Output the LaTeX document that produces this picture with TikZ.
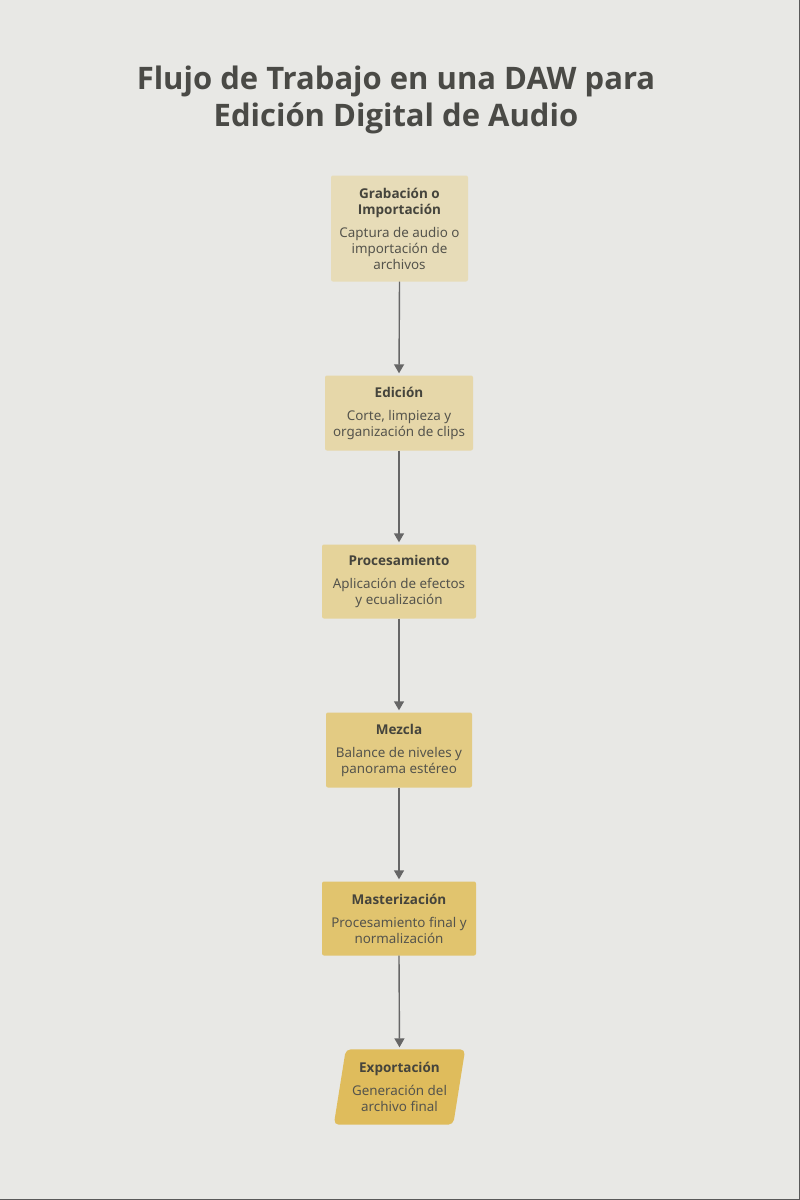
\documentclass[tikz,border=0pt]{standalone}
\usepackage{fontspec}
\setmainfont{Noto Sans}
\newfontfamily\titlefont{Open Sans}
\usetikzlibrary{arrows.meta,backgrounds}
\definecolor{bgc}{HTML}{E8E8E5}
\definecolor{titlec}{HTML}{4A4A46}
\definecolor{headc}{HTML}{45443C}
\definecolor{descc}{HTML}{55544C}
\definecolor{arrc}{HTML}{666666}
\definecolor{c1}{HTML}{E7DCB8}
\definecolor{c2}{HTML}{E6D7A9}
\definecolor{c3}{HTML}{E5D39A}
\definecolor{c4}{HTML}{E3CB83}
\definecolor{c5}{HTML}{E1C46E}
\definecolor{c6}{HTML}{DFBC5C}
\newcommand{\hd}[1]{{\titlefont\bfseries\fontsize{13.5}{16}\selectfont\color{headc}#1}}
\tikzset{
  stepbox/.style={rounded corners=2pt, align=center, inner sep=0pt, text=descc, font=\fontsize{13.4}{16}\selectfont},
  flow/.style={draw=arrc, line width=1.4pt, -{Triangle[length=9pt,width=10pt]}, shorten >=2pt},
}
\begin{document}
\begin{tikzpicture}[x=1pt,y=-1pt]
\useasboundingbox (0,0) rectangle (800,1200);
\begin{scope}[on background layer]
\fill[bgc] (0,0) rectangle (800,1200);
\draw[color=gray!70!black, line width=1pt] (799.5,0) -- (799.5,1199.5) -- (0,1199.5);
\end{scope}
\node[align=center, text=titlec, font=\titlefont\bfseries\fontsize{31}{37}\selectfont] (title) at (396,100) {Flujo de Trabajo en una DAW para\\Edición Digital de Audio};
\node[stepbox, fill=c1, minimum width=137pt, minimum height=106pt] (n1) at (399.5,228.5) {\hd{Grabación o}\\\hd{Importación}\\[7pt]Captura de audio o\\importación de\\archivos};
\node[stepbox, fill=c2, minimum width=148pt, minimum height=75pt] (n2) at (399,413) {\hd{Edición}\\[7pt]Corte, limpieza y\\organización de clips};
\node[stepbox, fill=c3, minimum width=154pt, minimum height=74pt] (n3) at (399,581.5) {\hd{Procesamiento}\\[7pt]Aplicación de efectos\\y ecualización};
\node[stepbox, fill=c4, minimum width=146pt, minimum height=75pt] (n4) at (399,750) {\hd{Mezcla}\\[7pt]Balance de niveles y\\panorama estéreo};
\node[stepbox, fill=c5, minimum width=154pt, minimum height=74pt] (n5) at (399,918.5) {\hd{Masterización}\\[7pt]Procesamiento final y\\normalización};
\node[stepbox, minimum width=119pt, minimum height=75pt] (n6) at (399.5,1087) {\hd{Exportación}\\[7pt]Generación del\\archivo final};
\begin{scope}[on background layer]
\fill[c6, rounded corners=5pt] ([xshift=6pt]n6.north west) -- ([xshift=6pt]n6.north east) -- ([xshift=-6pt]n6.south east) -- ([xshift=-6pt]n6.south west) -- cycle;
\end{scope}
\draw[flow] (n1.south) -- (n2.north);
\draw[flow] (n2.south) -- (n3.north);
\draw[flow] (n3.south) -- (n4.north);
\draw[flow] (n4.south) -- (n5.north);
\draw[flow] (n5.south) -- (n6.north);
\end{tikzpicture}
\end{document}
